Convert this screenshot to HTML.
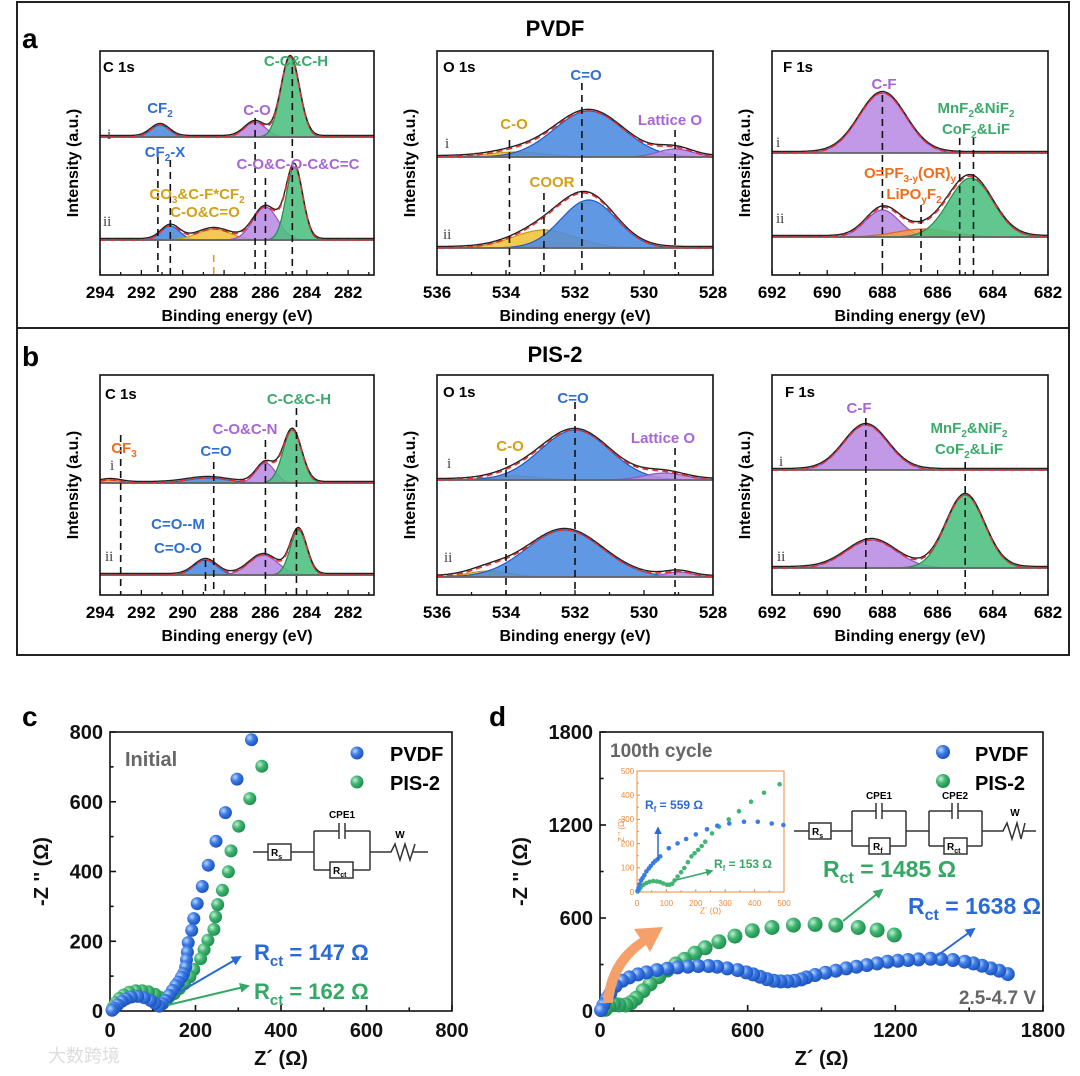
<!DOCTYPE html>
<html><head><meta charset="utf-8"><style>
html,body{margin:0;padding:0;background:#fff;}
svg{display:block;font-family:"Liberation Sans","Noto Sans CJK SC",sans-serif;}
.b{font-weight:bold;}
</style></head><body>
<svg id="fig" width="1080" height="1076" viewBox="0 0 1080 1076">
<defs>
<radialGradient id="gBlue" cx="35%" cy="35%" r="70%"><stop offset="0" stop-color="#bcd6ff"/><stop offset="0.45" stop-color="#3b7be6"/><stop offset="1" stop-color="#1a4fb8"/></radialGradient>
<radialGradient id="gGreen" cx="35%" cy="35%" r="70%"><stop offset="0" stop-color="#c4f0d4"/><stop offset="0.45" stop-color="#3fb672"/><stop offset="1" stop-color="#1f8a4c"/></radialGradient>
<marker id="arB" viewBox="0 0 10 10" refX="8" refY="5" markerWidth="5" markerHeight="5" orient="auto"><path d="M0,0 L10,5 L0,10 z" fill="#2a6ad6"/></marker>
<marker id="arG" viewBox="0 0 10 10" refX="8" refY="5" markerWidth="5" markerHeight="5" orient="auto"><path d="M0,0 L10,5 L0,10 z" fill="#34a864"/></marker>
</defs>
<rect x="17" y="2" width="1052" height="653" fill="none" stroke="#222" stroke-width="2"/>
<line x1="17" y1="328" x2="1069" y2="328" stroke="#222" stroke-width="2"/>
<g id="plots"></g>
<g id="annot" font-weight="bold" font-size="15">
<text x="22" y="48" font-size="28">a</text>
<text x="22" y="366" font-size="28">b</text>
<text x="555" y="36" font-size="22" text-anchor="middle">PVDF</text>
<text x="555" y="362" font-size="22" text-anchor="middle">PIS-2</text>
<!-- a C1s -->
<text x="103" y="72">C 1s</text>
<text x="296" y="66" text-anchor="middle" fill="#3aaa6a">C-C&amp;C-H</text>
<text x="160" y="113" text-anchor="middle" fill="#2e6fd3">CF<tspan font-size="10" dy="4">2</tspan></text>
<text x="257" y="115" text-anchor="middle" fill="#a865d8">C-O</text>
<text x="165" y="157" text-anchor="middle" fill="#2e6fd3">CF<tspan font-size="10" dy="4">2</tspan><tspan dy="-4">-X</tspan></text>
<text x="298" y="169" text-anchor="middle" fill="#a865d8">C-O&amp;C-O-C&amp;C=C</text>
<text x="197" y="199" text-anchor="middle" fill="#d4a017">CO<tspan font-size="10" dy="4">3</tspan><tspan dy="-4">&amp;C-F*CF</tspan><tspan font-size="10" dy="4">2</tspan></text>
<text x="205" y="217" text-anchor="middle" fill="#d4a017">C-O&amp;C=O</text>
<text x="107" y="139" font-weight="normal" font-family="Liberation Serif,serif" fill="#444">i</text>
<text x="103" y="226" font-weight="normal" font-family="Liberation Serif,serif" fill="#444">ii</text>
<!-- a O1s -->
<text x="443" y="72">O 1s</text>
<text x="586" y="80" text-anchor="middle" fill="#2e6fd3">C=O</text>
<text x="514" y="129" text-anchor="middle" fill="#d4a017">C-O</text>
<text x="670" y="125" text-anchor="middle" fill="#a865d8">Lattice O</text>
<text x="552" y="187" text-anchor="middle" fill="#d4a017">COOR</text>
<text x="445" y="148" font-weight="normal" font-family="Liberation Serif,serif" fill="#444">i</text>
<text x="443" y="239" font-weight="normal" font-family="Liberation Serif,serif" fill="#444">ii</text>
<!-- a F1s -->
<text x="783" y="72">F 1s</text>
<text x="884" y="89" text-anchor="middle" fill="#a865d8">C-F</text>
<text x="976" y="113" text-anchor="middle" fill="#3aaa6a">MnF<tspan font-size="10" dy="4">2</tspan><tspan dy="-4">&amp;NiF</tspan><tspan font-size="10" dy="4">2</tspan></text>
<text x="976" y="134" text-anchor="middle" fill="#3aaa6a">CoF<tspan font-size="10" dy="4">2</tspan><tspan dy="-4">&amp;LiF</tspan></text>
<text x="910" y="178" text-anchor="middle" fill="#f26b1d">O=PF<tspan font-size="10" dy="4">3-y</tspan><tspan dy="-4">(OR)</tspan><tspan font-size="10" dy="4">y</tspan></text>
<text x="914" y="199" text-anchor="middle" fill="#f26b1d">LiPO<tspan font-size="10" dy="4">y</tspan><tspan dy="-4">F</tspan><tspan font-size="10" dy="4">2</tspan></text>
<text x="776" y="147" font-weight="normal" font-family="Liberation Serif,serif" fill="#444">i</text>
<text x="776" y="223" font-weight="normal" font-family="Liberation Serif,serif" fill="#444">ii</text>
<!-- b C1s -->
<text x="105" y="399">C 1s</text>
<text x="299" y="404" text-anchor="middle" fill="#3aaa6a">C-C&amp;C-H</text>
<text x="245" y="434" text-anchor="middle" fill="#a865d8">C-O&amp;C-N</text>
<text x="124" y="453" text-anchor="middle" fill="#f26b1d">CF<tspan font-size="10" dy="4">3</tspan></text>
<text x="216" y="456" text-anchor="middle" fill="#2e6fd3">C=O</text>
<text x="178" y="529" text-anchor="middle" fill="#2e6fd3">C=O--M</text>
<text x="178" y="553" text-anchor="middle" fill="#2e6fd3">C=O-O</text>
<text x="110" y="470" font-weight="normal" font-family="Liberation Serif,serif" fill="#444">i</text>
<text x="105" y="561" font-weight="normal" font-family="Liberation Serif,serif" fill="#444">ii</text>
<!-- b O1s -->
<text x="443" y="397">O 1s</text>
<text x="573" y="403" text-anchor="middle" fill="#2e6fd3">C=O</text>
<text x="510" y="451" text-anchor="middle" fill="#d4a017">C-O</text>
<text x="663" y="443" text-anchor="middle" fill="#a865d8">Lattice O</text>
<text x="447" y="468" font-weight="normal" font-family="Liberation Serif,serif" fill="#444">i</text>
<text x="444" y="562" font-weight="normal" font-family="Liberation Serif,serif" fill="#444">ii</text>
<!-- b F1s -->
<text x="785" y="397">F 1s</text>
<text x="859" y="413" text-anchor="middle" fill="#a865d8">C-F</text>
<text x="969" y="433" text-anchor="middle" fill="#3aaa6a">MnF<tspan font-size="10" dy="4">2</tspan><tspan dy="-4">&amp;NiF</tspan><tspan font-size="10" dy="4">2</tspan></text>
<text x="969" y="454" text-anchor="middle" fill="#3aaa6a">CoF<tspan font-size="10" dy="4">2</tspan><tspan dy="-4">&amp;LiF</tspan></text>
<text x="779" y="466" font-weight="normal" font-family="Liberation Serif,serif" fill="#444">i</text>
<text x="777" y="561" font-weight="normal" font-family="Liberation Serif,serif" fill="#444">ii</text>
<!-- c -->
<text x="22" y="726" font-size="28">c</text>
<text x="489" y="726" font-size="28">d</text>
<text x="125" y="766" font-size="20" fill="#666">Initial</text>
<circle cx="357" cy="753" r="6.5" fill="url(#gBlue)"/>
<text x="390" y="761" font-size="20">PVDF</text>
<circle cx="357" cy="782" r="6.5" fill="url(#gGreen)"/>
<text x="390" y="790" font-size="20">PIS-2</text>
<text x="254" y="960" font-size="22" fill="#2a6ad6">R<tspan font-size="15" dy="6">ct</tspan><tspan dy="-6"> = 147 Ω</tspan></text>
<text x="254" y="999" font-size="22" fill="#34a864">R<tspan font-size="15" dy="6">ct</tspan><tspan dy="-6"> = 162 Ω</tspan></text>
<line x1="178" y1="993" x2="240" y2="957" stroke="#2a6ad6" stroke-width="2" marker-end="url(#arB)"/>
<line x1="168" y1="1005" x2="248" y2="986" stroke="#34a864" stroke-width="2" marker-end="url(#arG)"/>
<g stroke="#333" stroke-width="1.5" fill="none">
<path d="M253,852 H268 M291,852 H314 M314,831 V870 M370,831 V870 M314,831 H339 M345,831 H370 M314,870 H330 M353,870 H370 M370,852 H391 L395,844 L400,860 L405,844 L410,860 L415,844 M413,852 H428"/>
<rect x="268" y="844" width="23" height="16" fill="#fff"/>
<rect x="330" y="862" width="23" height="16" fill="#fff"/>
<path d="M339,823 V839 M345,823 V839"/>
</g>
<text x="271" y="856" font-size="10">R<tspan font-size="7" dy="3">s</tspan></text>
<text x="333" y="874" font-size="10">R<tspan font-size="7" dy="3">ct</tspan></text>
<text x="342" y="818" font-size="10" text-anchor="middle">CPE1</text>
<text x="400" y="838" font-size="10" text-anchor="middle">W</text>
<!-- d -->
<text x="610" y="757" font-size="19" fill="#666">100th cycle</text>
<circle cx="943" cy="752" r="7" fill="url(#gBlue)"/>
<text x="975" y="761" font-size="20">PVDF</text>
<circle cx="943" cy="781" r="7" fill="url(#gGreen)"/>
<text x="975" y="790" font-size="20">PIS-2</text>
<text x="823" y="877" font-size="23" fill="#34a864">R<tspan font-size="16" dy="6">ct</tspan><tspan dy="-6"> = 1485 Ω</tspan></text>
<text x="908" y="914" font-size="23" fill="#2a6ad6">R<tspan font-size="16" dy="6">ct</tspan><tspan dy="-6"> = 1638 Ω</tspan></text>
<line x1="843" y1="921" x2="882" y2="890" stroke="#34a864" stroke-width="2" marker-end="url(#arG)"/>
<line x1="934" y1="958" x2="974" y2="929" stroke="#2a6ad6" stroke-width="2" marker-end="url(#arB)"/>
<text x="1036" y="1004" font-size="19" fill="#666" text-anchor="end">2.5-4.7 V</text>
<path d="M603,1003 Q606,960 640,938 L634,929 L663,927 L650,952 L646,945 Q616,966 613,1003 Z" fill="#f5a06a"/>
<g stroke="#333" stroke-width="1.5" fill="none">
<path d="M794,831 H809 M831,831 H852 M852,811 V846 M906,811 V846 M852,811 H876 M882,811 H906 M852,846 H869 M890,846 H906 M906,831 H929 M929,811 V846 M982,811 V846 M929,811 H952 M958,811 H982 M929,846 H944 M967,846 H982 M982,831 H1003 L1007,823 L1012,839 L1017,823 L1021,839 L1025,823 M1023,831 H1036"/>
<rect x="809" y="823" width="22" height="16" fill="#fff"/>
<rect x="869" y="838" width="21" height="16" fill="#fff"/>
<rect x="944" y="838" width="23" height="16" fill="#fff"/>
<path d="M876,803 V819 M882,803 V819 M952,803 V819 M958,803 V819"/>
</g>
<text x="812" y="835" font-size="10">R<tspan font-size="7" dy="3">s</tspan></text>
<text x="873" y="850" font-size="10">R<tspan font-size="7" dy="3">f</tspan></text>
<text x="947" y="850" font-size="10">R<tspan font-size="7" dy="3">ct</tspan></text>
<text x="879" y="799" font-size="10" text-anchor="middle">CPE1</text>
<text x="955" y="799" font-size="10" text-anchor="middle">CPE2</text>
<text x="1015" y="816" font-size="10" text-anchor="middle">W</text>
<text x="645" y="809" font-size="12" fill="#2a6ad6">R<tspan font-size="8" dy="3">f</tspan><tspan dy="-3"> = 559 Ω</tspan></text>
<text x="714" y="868" font-size="12" fill="#34a864">R<tspan font-size="8" dy="3">f</tspan><tspan dy="-3"> = 153 Ω</tspan></text>
<line x1="658" y1="860" x2="658" y2="828" stroke="#2a6ad6" stroke-width="1.5" marker-end="url(#arB)"/>
<line x1="676" y1="880" x2="712" y2="871" stroke="#34a864" stroke-width="1.5" marker-end="url(#arG)"/>
<text x="48" y="1062" font-size="18" fill="#ddd" font-weight="normal">大数跨境</text>
</g>
</svg>
<script>
// ---------- XPS data: [center eV, height, sigma, colour] ----------
const cTicks=[294,292,290,288,286,284,282];
const oTicks=[536,534,532,530,528];
const fTicks=[692,690,688,686,684,682];
const aC_bases=[138,35];
const aC_i=[[291.1,12,0.45,'b'],[286.5,15,0.5,'p'],[284.8,80,0.45,'g']];
const aC_ii=[[290.6,14,0.45,'b'],[288.5,11,0.8,'y'],[286.0,33,0.6,'p'],[284.6,73,0.4,'g']];
const aC_dashE=[291.2,290.6,286.5,286.0,284.7,288.5];
const aO_bases=[118,27];
const aO_i=[[533.7,5,0.8,'y'],[531.6,46,1.0,'b'],[529.1,8,0.5,'p']];
const aO_ii=[[532.9,18,0.9,'y'],[531.6,48,0.8,'b']];
const aO_dashE=[533.9,532.9,531.8,529.1];
const aF_bases=[122,38];
const aF_i=[[688.0,60,0.85,'p']];
const aF_ii=[[688.0,27,0.6,'p'],[686.5,8,1.0,'o'],[684.8,59,0.8,'g']];
const aF_dashE=[688.0,686.6,685.2,684.7];
const bC_bases=[112,20];
const bC_i=[[293.5,3,0.5,'o'],[288.8,5,1.0,'b'],[286.0,20,0.45,'p'],[284.7,53,0.45,'g']];
const bC_ii=[[288.9,15,0.55,'b'],[286.1,20,0.7,'p'],[284.4,45,0.4,'g']];
const bC_dashE=[293.0,288.5,286.0,284.5,288.9];
const bO_bases=[115,18];
const bO_i=[[533.8,4,0.7,'y'],[532.0,50,1.0,'b'],[529.4,7,0.6,'p']];
const bO_ii=[[534.5,6,0.6,'y'],[532.3,47,1.1,'b'],[529.0,5,0.4,'p']];
const bO_dashE=[534.0,532.0,529.1];
const bF_bases=[125,27];
const bF_i=[[688.6,45,0.8,'p']];
const bF_ii=[[688.4,28,0.9,'p'],[685.0,73,0.7,'g']];
const bF_dashE=[688.6,685.0];

// ---------- EIS data: [Z' ohm, -Z'' ohm] ----------
const cAxisTicks=[0,200,400,600,800];
const cPVDF=[[331,778],[297,665],[270,569],[248,487],[230,418],[216,357],[204,308],[196,265],[191,231],[183,196],[181,169],[179,147],[177,126],[172,107],[167,97],[160,83],[154,73],[146,59],[138,45],[130,30],[123,21],[115,14],[105,22],[95,30],[80,38],[65,42],[50,40],[38,35],[28,28],[18,18],[10,8],[5,2]];
const cPIS2=[[355,702],[327,609],[301,530],[283,459],[277,399],[263,346],[252,305],[247,270],[243,234],[229,203],[220,176],[212,150],[196,119],[187,98],[174,78],[162,64],[150,50],[138,40],[126,35],[115,40],[105,48],[90,55],[75,58],[60,58],[45,54],[32,46],[22,36],[14,24],[8,12],[5,4]];
const dAxisTicks=[0,600,1200,1800];
const dPVDF=[[1657,238],[1622,260],[1588,275],[1552,292],[1517,307],[1482,318],[1434,329],[1385,335],[1343,337],[1294,333],[1252,329],[1210,324],[1168,318],[1126,307],[1084,296],[1042,286],[1000,275],[958,260],[916,247],[874,232],[839,217],[818,204],[790,195],[762,191],[734,191],[706,195],[678,206],[650,221],[622,236],[594,249],[559,264],[517,275],[476,286],[441,290],[399,290],[357,286],[315,281],[273,273],[231,264],[189,249],[154,236],[119,217],[91,195],[63,161],[42,114],[28,82],[14,39],[4,6]];
const dPIS2=[[1196,490],[1126,522],[1049,539],[958,554],[874,559],[786,554],[699,539],[619,518],[548,483],[483,447],[427,408],[385,372],[343,333],[308,303],[273,264],[238,221],[203,174],[175,131],[147,82],[126,54],[105,39],[77,39],[56,45],[35,32],[21,11]];
const insetTicks=[0,100,200,300,400,500];
const insetPVDF=[[498,277],[458,283],[411,290],[364,290],[314,283],[273,274],[238,259],[200,238],[167,219],[138,201],[108,181],[79,147],[70,135],[62,128],[55,120],[47,108],[40,97],[32,85],[25,70],[19,58],[14,48],[9,32],[5,16],[2,5]];
const insetPIS2=[[485,445],[432,410],[388,373],[347,334],[312,300],[279,270],[255,242],[232,208],[220,190],[208,174],[196,160],[185,147],[173,123],[161,99],[150,82],[138,64],[128,48],[120,34],[111,30],[102,30],[90,35],[79,41],[67,44],[55,45],[43,42],[32,37],[22,30],[14,21],[8,12],[5,7],[2,2]];

const NS='http://www.w3.org/2000/svg';
const root=document.getElementById('plots');
function mk(tag,parent){const e=document.createElementNS(NS,tag);parent.appendChild(e);return e;}
function set(e,a){for(const k in a)e.setAttribute(k,a[k]);return e;}
const COL={b:['#4a8ae0','#1f5cc4'],g:['#4cbf80','#228b4e'],p:['#b98be3','#8d55c8'],y:['#f2c23a','#c99a12'],o:['#f59a50','#e0661a']};

function xpsPanel(name,L,ticks,bases,specs,dashE,dashTop,dashCol,minorStep){
  const g=mk('g',root);
  
  
  const X=e=>L.x0+(L.e0-e)/(L.e0-L.e1)*(L.x1-L.x0);
  const Y=v=>L.yB-v;
  const gauss=(p,e)=>p[1]*Math.exp(-0.5*Math.pow((e-p[0])/p[2],2));
  const N=260;
  specs.forEach((peaks,si)=>{
    const base=bases[si];
    peaks.forEach(p=>{
      let d='M'+X(L.e0)+','+Y(base);
      for(let k=0;k<=N;k++){const e=L.e0+(L.e1-L.e0)*k/N;d+=' L'+X(e).toFixed(1)+','+Y(base+gauss(p,e)).toFixed(1);}
      d+=' L'+X(L.e1)+','+Y(base)+' Z';
      const path=set(mk('path',g),{d:d,fill:COL[p[3]][0],'fill-opacity':0.88,stroke:COL[p[3]][1],'stroke-width':1.2});
      
      
    });
    const bl=set(mk('line',g),{x1:L.x0,x2:L.x1,y1:Y(base),y2:Y(base),stroke:'#666','stroke-width':1.8});
    
    
    let d='';
    for(let k=0;k<=N;k++){const e=L.e0+(L.e1-L.e0)*k/N;let v=base;peaks.forEach(p=>v+=gauss(p,e));d+=(k?' L':'M')+X(e).toFixed(1)+','+Y(v).toFixed(1);}
    const raw=set(mk('path',g),{d:d,fill:'none',stroke:'#222','stroke-width':1.4,transform:'translate(0,-1.5)'});
    
    
    const fit=set(mk('path',g),{d:d,fill:'none',stroke:'#e53030','stroke-width':1.6,'stroke-dasharray':'6,4'});
    
    
  });
  dashE.forEach((e,i)=>{
    const ln=set(mk('line',g),{x1:X(e),x2:X(e),y1:dashTop[i],y2:L.yB,stroke:dashCol[i]||'#111','stroke-width':1.6,'stroke-dasharray':'7,5'});
    
    
  });
  const fr=set(mk('rect',g),{x:L.x0,y:L.yT,width:L.x1-L.x0,height:L.yB-L.yT,fill:'none',stroke:'#111','stroke-width':1.6});
  
  
  for(let e=L.e0;e>=L.e1-1e-6;e-=minorStep){
    const major=ticks.some(t=>Math.abs(t-e)<1e-6);
    const t=set(mk('line',g),{x1:X(e),x2:X(e),y1:L.yB,y2:L.yB-(major?5:3),stroke:'#111','stroke-width':1.3});
    
    
  }
  ticks.forEach(tv=>{
    const t=set(mk('text',g),{x:X(tv),y:L.yB+23,'text-anchor':'middle','font-size':17,'font-weight':'bold'});
    t.textContent=tv;
    
    
  });
  const xl=set(mk('text',g),{x:(L.x0+L.x1)/2,y:L.yB+46,'text-anchor':'middle','font-size':16,'font-weight':'bold'});
  xl.textContent='Binding energy (eV)';
  
  
  const yc=(L.yT+L.yB)/2;
  const yl=set(mk('text',g),{x:L.x0-22,y:yc,'text-anchor':'middle','font-size':16,'font-weight':'bold',transform:'rotate(-90 '+(L.x0-22)+' '+yc+')'});
  yl.textContent='Intensity (a.u.)';
  
  
}
const LaC={x0:100,x1:374,e0:294,e1:280.75,yT:51,yB:275},LaO={x0:437,x1:713,e0:536,e1:528,yT:51,yB:275},LaF={x0:772,x1:1048,e0:692,e1:682,yT:51,yB:275};
const LbC={x0:100,x1:374,e0:294,e1:280.75,yT:375,yB:595},LbO={x0:437,x1:713,e0:536,e1:528,yT:375,yB:595},LbF={x0:772,x1:1048,e0:692,e1:682,yT:375,yB:595};
xpsPanel('xps-a-c1s',LaC,cTicks,aC_bases,[aC_i,aC_ii],aC_dashE,[157,160,118,178,67,255],[0,0,0,0,0,'#e0a020'],1);
xpsPanel('xps-a-o1s',LaO,oTicks,aO_bases,[aO_i,aO_ii],aO_dashE,[140,193,83,130],[],1);
xpsPanel('xps-a-f1s',LaF,fTicks,aF_bases,[aF_i,aF_ii],aF_dashE,[95,205,138,138],[],1);
xpsPanel('xps-b-c1s',LbC,cTicks,bC_bases,[bC_i,bC_ii],bC_dashE,[435,462,440,408,560],[],1);
xpsPanel('xps-b-o1s',LbO,oTicks,bO_bases,[bO_i,bO_ii],bO_dashE,[458,402,448],[],1);
xpsPanel('xps-b-f1s',LbF,fTicks,bF_bases,[bF_i,bF_ii],bF_dashE,[418,462],[],1);

function eis(name,L,ticks,series,opt){
  const g=mk('g',root);
  
  
  const X=v=>L.x0+(v-L.v0)/(L.v1-L.v0)*(L.x1-L.x0);
  const Y=v=>L.yB-(v-L.v0)/(L.v1-L.v0)*(L.yB-L.yT);
  const fr=set(mk('rect',g),{x:L.x0,y:L.yT,width:L.x1-L.x0,height:L.yB-L.yT,fill:opt.bg||'none',stroke:opt.axCol,'stroke-width':opt.lw});
  
  
  const step=(ticks[1]-ticks[0])/2;
  for(let v=L.v0;v<=L.v1+1e-6;v+=step){
    const major=ticks.some(t=>Math.abs(t-v)<1e-6);
    const len=major?opt.tl:opt.tl*0.6;
    const tx=set(mk('line',g),{x1:X(v),x2:X(v),y1:L.yB,y2:L.yB-len,stroke:opt.axCol,'stroke-width':opt.lw});
    
    
    const ty=set(mk('line',g),{x1:L.x0,x2:L.x0+len,y1:Y(v),y2:Y(v),stroke:opt.axCol,'stroke-width':opt.lw});
    
    
  }
  ticks.forEach(tv=>{
    const a=set(mk('text',g),{x:X(tv),y:L.yB+opt.fs+6,'text-anchor':'middle','font-size':opt.fs,'font-weight':opt.fw,fill:opt.axCol});
    a.textContent=tv;
    
    
    const b=set(mk('text',g),{x:L.x0-opt.fs*0.35,y:Y(tv)+opt.fs*0.35,'text-anchor':'end','font-size':opt.fs,'font-weight':opt.fw,fill:opt.axCol});
    b.textContent=tv;
    
    
  });
  const xl=set(mk('text',g),{x:(L.x0+L.x1)/2,y:L.yB+opt.fs*2.7,'text-anchor':'middle','font-size':opt.fs,'font-weight':opt.fw,fill:opt.axCol});
  xl.textContent='Z´ (Ω)';
  
  
  const yc=(L.yT+L.yB)/2;
  const yl=set(mk('text',g),{x:opt.ylx,y:yc,'text-anchor':'middle','font-size':opt.fs,'font-weight':opt.fw,fill:opt.axCol,transform:'rotate(-90 '+opt.ylx+' '+yc+')'});
  yl.textContent="-Z '' (Ω)";
  
  
  series.forEach(s=>{
    s.data.forEach(p=>{
      if(p[0]>L.v1||p[1]>L.v1) return;
      const c=set(mk('circle',g),{cx:X(p[0]).toFixed(1),cy:Y(p[1]).toFixed(1),r:s.r,fill:s.fill});
      
      
    });
  });
}
eis('eis-initial',{x0:110,x1:452,yT:732,yB:1011,v0:0,v1:800},cAxisTicks,
  [{data:cPIS2,r:6.5,fill:'url(#gGreen)',name:'point-pis2'},{data:cPVDF,r:6.5,fill:'url(#gBlue)',name:'point-pvdf'}],
  {axCol:'#111',lw:1.6,tl:6,fs:20,fw:'bold',ylx:48});
eis('eis-100th',{x0:600,x1:1043,yT:732,yB:1011,v0:0,v1:1800},dAxisTicks,
  [{data:dPIS2,r:7.5,fill:'url(#gGreen)',name:'point-pis2'},{data:dPVDF,r:7,fill:'url(#gBlue)',name:'point-pvdf'}],
  {axCol:'#111',lw:1.6,tl:6,fs:20,fw:'bold',ylx:527});
eis('eis-inset',{x0:637,x1:784,yT:771,yB:892,v0:0,v1:500},insetTicks,
  [{data:insetPIS2,r:2.3,fill:'#3fb672',name:'inset-point-pis2'},{data:insetPVDF,r:2.3,fill:'#3b7be6',name:'inset-point-pvdf'}],
  {axCol:'#f08a3c',lw:1,tl:3,fs:8,fw:'normal',ylx:624,bg:'#fff'});
document.getElementById('fig').appendChild(document.getElementById('annot'));
</script>
</body></html>
